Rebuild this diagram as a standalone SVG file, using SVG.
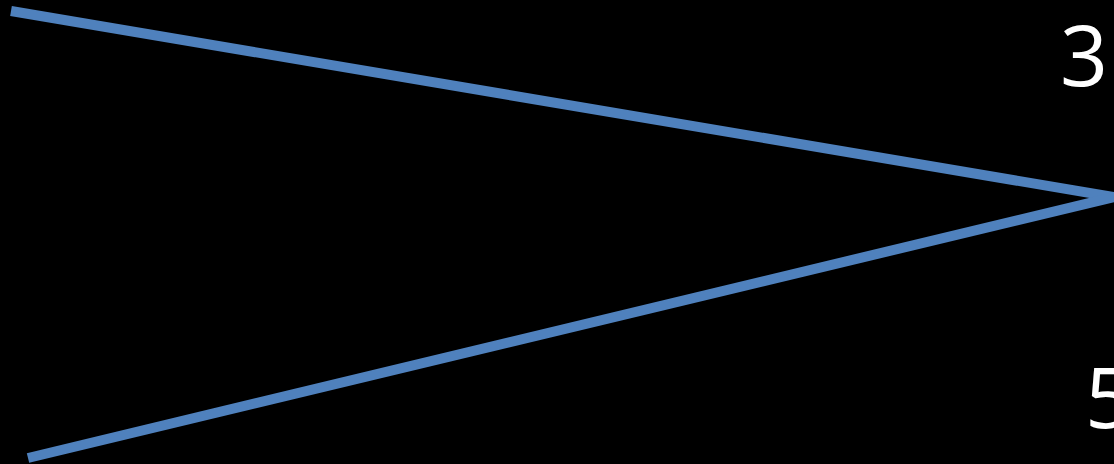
<svg xmlns="http://www.w3.org/2000/svg" width="1114" height="464" viewBox="0 0 1114 464">
<style>
.lbl{font-family:"Open Sans","Liberation Sans",sans-serif;font-size:84px;fill:#ffffff}
.edge{fill:none;stroke:#4F81BD;stroke-width:10}
</style>
<rect width="1114" height="464" fill="#000000"/>
<g id="connectors">
<path class="edge" d="M11,11 L1114,197"/>
<path class="edge" d="M28,458 L1114,197"/>
</g>
<g id="label-3"><text class="lbl" x="1060" y="86">3</text></g>
<g id="label-5"><text class="lbl" x="1085" y="428">5</text></g>
</svg>
